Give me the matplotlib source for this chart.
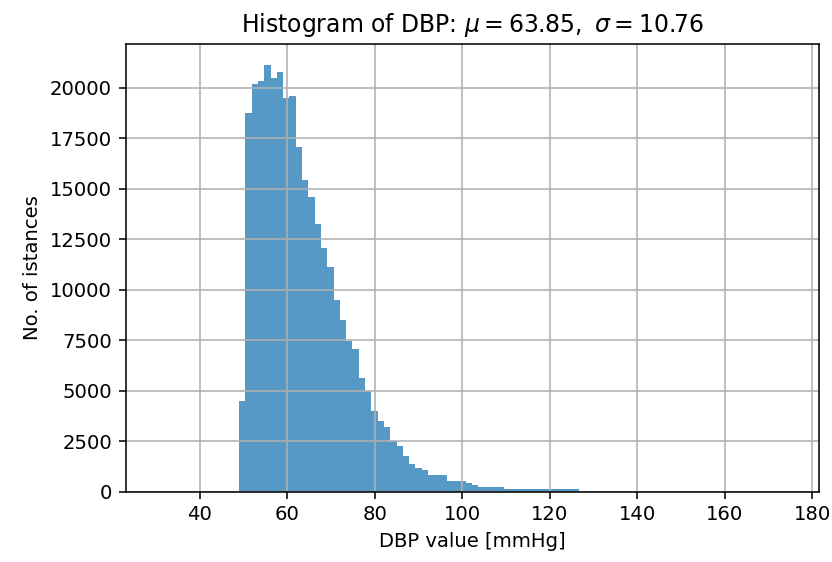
import numpy as np
import matplotlib
matplotlib.use('Agg')
import matplotlib.pyplot as plt

# DBP histogram: 100 equal bins between bin_lo and bin_hi
bin_lo = 30.2
bin_hi = 174.3
n_bins = 100

# counts per bin (bins 0..99)
counts = [0] * 13 + [
    4510, 18760, 20200, 20330, 21120, 20495, 20790, 19480, 19580, 17050,
    15420, 14610, 13280, 12060, 11140, 9500, 8500, 7480, 7050, 5630,
    4970, 3990, 3500, 3200, 2520, 2260, 1780, 1350, 1160, 1070,
    840, 840, 840, 540, 540, 540, 430, 330, 230, 230,
    230, 230, 120, 120, 120, 120, 120, 120, 120, 120,
    120, 120, 120, 120,
] + [0] * 33

mu = 63.85
sigma = 10.76

edges = np.linspace(bin_lo, bin_hi, n_bins + 1)
centers = (edges[:-1] + edges[1:]) / 2

dpi = 141
fig = plt.figure(figsize=(832 / dpi, 562 / dpi), dpi=dpi)
ax = fig.add_subplot(111)
ax.hist(centers, bins=edges, weights=counts, alpha=0.75)
ax.grid(True)
ax.set_title(r'Histogram of DBP: $\mu=%.2f,\ \sigma=%.2f$' % (mu, sigma))
ax.set_xlabel('DBP value [mmHg]')
ax.set_ylabel('No. of istances')
plt.subplots_adjust(left=0.151, right=0.984, top=0.922, bottom=0.125)
plt.savefig('out.png', dpi=dpi)
